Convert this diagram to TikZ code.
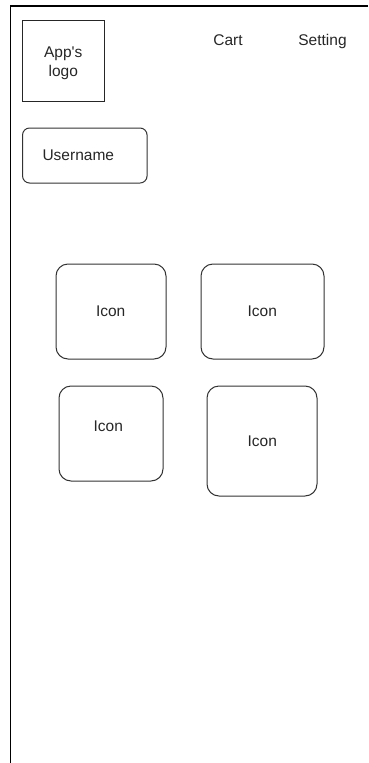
\documentclass[tikz,border=0pt]{standalone}
\usepackage{fontspec}
\setmainfont{Liberation Sans}
\begin{document}
\begin{tikzpicture}[x=1pt,y=-1pt,
  box/.style={draw=black!80,line width=1.0pt,inner sep=0pt,rounded corners=12pt},
  sqbox/.style={draw=black!85,line width=1.0pt,inner sep=0pt},
  lbl/.style={anchor=base,inner sep=0pt,font=\fontsize{15.5}{19}\selectfont,text=black!85}]
\useasboundingbox (0,0) rectangle (368,763);
\coordinate (tr) at (368,6);
\coordinate (tl) at (10.5,6);
\coordinate (bl) at (10.5,763);
\draw[line width=1.4pt,black] (tr) -- (tl) -- (bl);
% logo
\node[sqbox,minimum width=82.5pt,minimum height=81pt] (logo) at (63.6,60.5) {};
\node[lbl,align=center] (logot) at (63.3,76) {App\textquotesingle s\\logo};
% cart / setting
\node[lbl] (cart) at (228,45.5) {Cart};
\node[lbl] (setting) at (322.5,45.5) {Setting};
% username
\node[box,rounded corners=7pt,minimum width=124.5pt,minimum height=55pt] (user) at (84.8,155.5) {};
\node[lbl] (usert) at (78.3,160.5) {Username};
% icons
\node[box,minimum width=110pt,minimum height=95pt] (i1) at (111,311.5) {};
\node[lbl] (i1t) at (110.7,316.5) {Icon};
\node[box,minimum width=123pt,minimum height=95pt] (i2) at (262.5,311.5) {};
\node[lbl] (i2t) at (262.3,316.5) {Icon};
\node[box,minimum width=104pt,minimum height=95pt] (i3) at (111,433.5) {};
\node[lbl] (i3t) at (108.3,431.5) {Icon};
\node[box,minimum width=110pt,minimum height=110pt] (i4) at (262,441) {};
\node[lbl] (i4t) at (262.3,446) {Icon};
\end{tikzpicture}
\end{document}
